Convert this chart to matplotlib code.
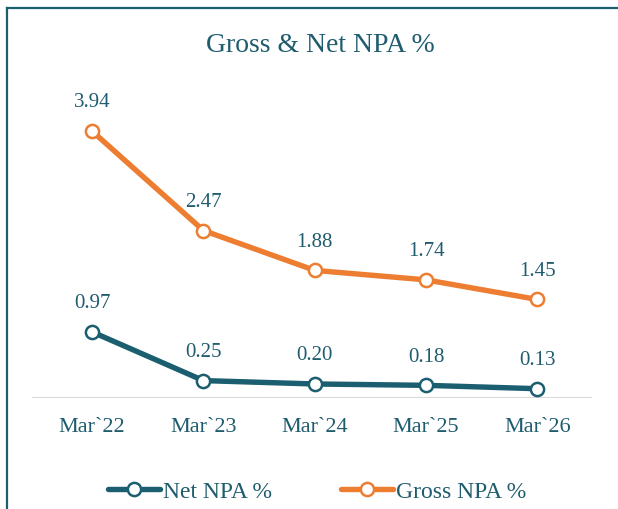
import matplotlib
matplotlib.use("Agg")
import matplotlib.pyplot as plt
from matplotlib.lines import Line2D

categories = ["Mar`22", "Mar`23", "Mar`24", "Mar`25", "Mar`26"]
net_npa = [0.97, 0.25, 0.20, 0.18, 0.13]
gross_npa = [3.94, 2.47, 1.88, 1.74, 1.45]

TEAL = "#1b5e6f"
ORANGE = "#ed7d31"
TXT = "#1f5c6e"
FONT = "Liberation Serif"

W, H = 618, 510
fig = plt.figure(figsize=(W / 100, H / 100), dpi=100)
ax = fig.add_axes([32 / W, 1 - 398.5 / H, 560 / W, (4.5 * 67.6) / H])

x = list(range(len(categories)))
l_net, = ax.plot(x, net_npa, color=TEAL, lw=3.9, marker="o", ms=9.5,
                 mfc="white", mec=TEAL, mew=1.8, solid_capstyle="round", zorder=3)
l_gross, = ax.plot(x, gross_npa, color=ORANGE, lw=3.9, marker="o", ms=9.5,
                   mfc="white", mec=ORANGE, mew=1.8, solid_capstyle="round", zorder=3)

for xi, v in zip(x, gross_npa):
    ax.annotate(f"{v:.2f}", (xi, v), xytext=(0, 21), textcoords="offset points",
                ha="center", va="center", fontsize=15, color=TXT, family=FONT)
for xi, v in zip(x, net_npa):
    ax.annotate(f"{v:.2f}", (xi, v), xytext=(0, 21), textcoords="offset points",
                ha="center", va="center", fontsize=15, color=TXT, family=FONT)

ax.set_xlim(-0.54, 4.49)
ax.set_ylim(0, 4.5)
ax.axhline(0, color="#d9d9d9", lw=1.5, zorder=1)
for s in ax.spines.values():
    s.set_visible(False)
ax.set_yticks([])
ax.set_xticks(x)
ax.set_xticklabels(categories, fontsize=16, color=TXT, family=FONT)
ax.tick_params(axis="x", length=0, pad=14)
ax.patch.set_alpha(0)

fig.text(320 / W, 1 - 45 / H, "Gross & Net NPA %", ha="center", va="center",
         fontsize=20, color=TXT, family=FONT)

leg = fig.legend([l_net, l_gross], ["Net NPA %", "Gross NPA %"], loc="center",
                 bbox_to_anchor=(317 / W, 1 - 492 / H), ncol=2, frameon=False,
                 handlelength=2.2, handletextpad=0.15, columnspacing=2.9,
                 prop={"family": FONT, "size": 17})
for t in leg.get_texts():
    t.set_color(TXT)

fig.add_artist(Line2D([7 / W, 7 / W], [0, 1 - 9 / H], color=TEAL, lw=1.6,
                      transform=fig.transFigure))
fig.add_artist(Line2D([7 / W, 1], [1 - 9 / H, 1 - 9 / H], color=TEAL, lw=1.6,
                      transform=fig.transFigure))

fig.savefig("out.png", dpi=100, facecolor="white")
